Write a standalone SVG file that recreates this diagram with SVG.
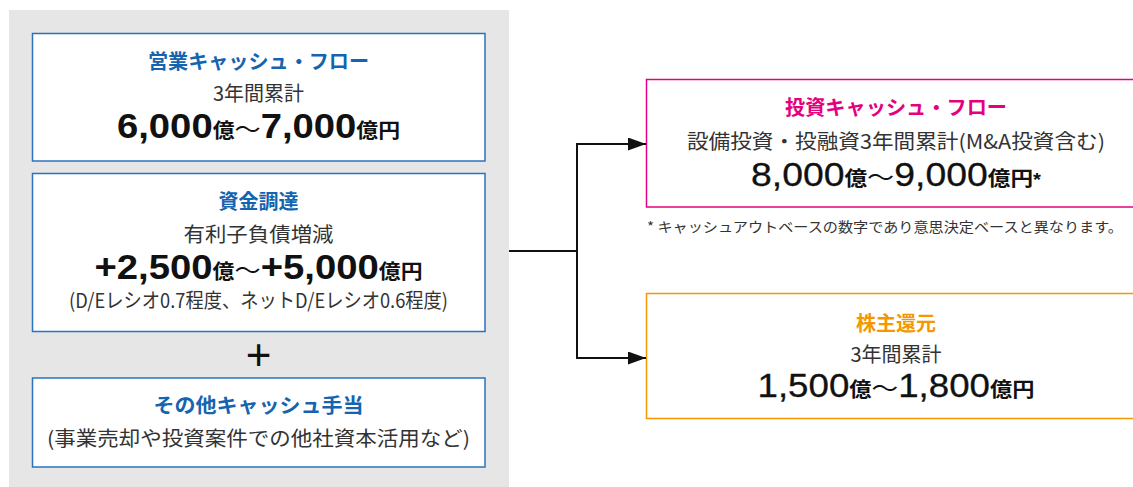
<svg xmlns="http://www.w3.org/2000/svg" width="1133" height="487" viewBox="0 0 1133 487">
<style>
text{font-family:"Liberation Sans","Noto Sans CJK JP",sans-serif;text-anchor:middle}
.jp{font-family:"Noto Sans CJK JP",sans-serif}
.tb{font-size:20px;font-weight:bold;fill:#1464b0}
.tm{font-size:20px;font-weight:bold;fill:#e4007f}
.to{font-size:20px;font-weight:bold;fill:#f39800}
.sub{font-size:20px;fill:#333}
.num{font-size:35px;font-weight:bold;fill:#111}
.numr{font-size:33px;font-weight:normal;fill:#111;stroke:#111;stroke-width:0.3}
.u{font-size:20px;font-family:"Noto Sans CJK JP",sans-serif;font-weight:bold;stroke:none}
.t{font-size:24px;font-family:"Noto Sans CJK JP",sans-serif;font-weight:normal;stroke:none}
.bx{fill:#fff;stroke:#2b72bd;stroke-width:1.5}
.conn{fill:none;stroke:#111;stroke-width:2}
</style>
<defs>
<marker id="ah" markerUnits="userSpaceOnUse" markerWidth="18" markerHeight="13" refX="18" refY="6.5" orient="auto">
<path d="M0,0 L18,6.5 L0,13 z" fill="#111"/>
</marker>
</defs>
<rect x="9" y="10" width="500" height="477" fill="#e6e6e6"/>
<g id="op-cf">
<rect class="bx" x="32.5" y="33.5" width="452.5" height="127.5"/>
<text class="jp tb" x="258.5" y="69" textLength="221" lengthAdjust="spacingAndGlyphs">営業キャッシュ・フロー</text>
<text class="jp sub" x="258.5" y="101">3年間累計</text>
<text class="num" x="258.5" y="138" textLength="283" lengthAdjust="spacingAndGlyphs">6,000<tspan class="u">億</tspan><tspan class="t">～</tspan>7,000<tspan class="u">億円</tspan></text>
</g>
<g id="funding">
<rect class="bx" x="32.5" y="173.5" width="452.5" height="158"/>
<text class="jp tb" x="258.5" y="209" font-size="21">資金調達</text>
<text class="jp sub" x="258.5" y="242" textLength="150" lengthAdjust="spacingAndGlyphs">有利子負債増減</text>
<text class="num" x="258.5" y="279" textLength="328" lengthAdjust="spacingAndGlyphs">+2,500<tspan class="u">億</tspan><tspan class="t">～</tspan>+5,000<tspan class="u">億円</tspan></text>
<text class="jp sub" x="258.5" y="308" font-size="16" textLength="379" lengthAdjust="spacingAndGlyphs">(D/Eレシオ0.7程度、ネットD/Eレシオ0.6程度)</text>
</g>
<text x="258.5" y="370" font-size="44" fill="#111">+</text>
<g id="other-cash">
<rect class="bx" x="32.5" y="378" width="452.5" height="89"/>
<text class="jp tb" x="258.5" y="413" textLength="210" lengthAdjust="spacingAndGlyphs">その他キャッシュ手当</text>
<text class="jp sub" x="258.5" y="446" textLength="423" lengthAdjust="spacingAndGlyphs">(事業売却や投資案件での他社資本活用など)</text>
</g>
<g id="inv-cf">
<rect x="646.5" y="79.5" width="500" height="127.5" fill="#fff" stroke="#e4007f" stroke-width="1.5"/>
<text class="jp tm" x="896" y="115" textLength="222" lengthAdjust="spacingAndGlyphs">投資キャッシュ・フロー</text>
<text class="jp sub" x="896" y="149" textLength="418" lengthAdjust="spacingAndGlyphs">設備投資・投融資3年間累計(M&amp;A投資含む)</text>
<text class="numr" x="896" y="186" textLength="290" lengthAdjust="spacingAndGlyphs">8,000<tspan class="u">億</tspan><tspan class="t">～</tspan>9,000<tspan class="u">億円</tspan><tspan font-size="18" font-weight="bold" stroke="none">*</tspan></text>
</g>
<text class="jp" x="647" y="232" font-size="14" fill="#333" style="text-anchor:start" textLength="476" lengthAdjust="spacingAndGlyphs">* キャッシュアウトベースの数字であり意思決定ベースと異なります。</text>
<g id="returns">
<rect x="646.5" y="293.5" width="500" height="125" fill="#fff" stroke="#f39800" stroke-width="1.5"/>
<text class="jp to" x="896" y="331" font-size="21">株主還元</text>
<text class="jp sub" x="896" y="362">3年間累計</text>
<text class="numr" x="896" y="397" textLength="277" lengthAdjust="spacingAndGlyphs">1,500<tspan class="u">億</tspan><tspan class="t">～</tspan>1,800<tspan class="u">億円</tspan></text>
</g>
<g id="connectors">
<path class="conn" d="M509,251 H577"/>
<path class="conn" d="M577,251 V144 H646" marker-end="url(#ah)"/>
<path class="conn" d="M577,251 V358 H646" marker-end="url(#ah)"/>
</g>
</svg>
